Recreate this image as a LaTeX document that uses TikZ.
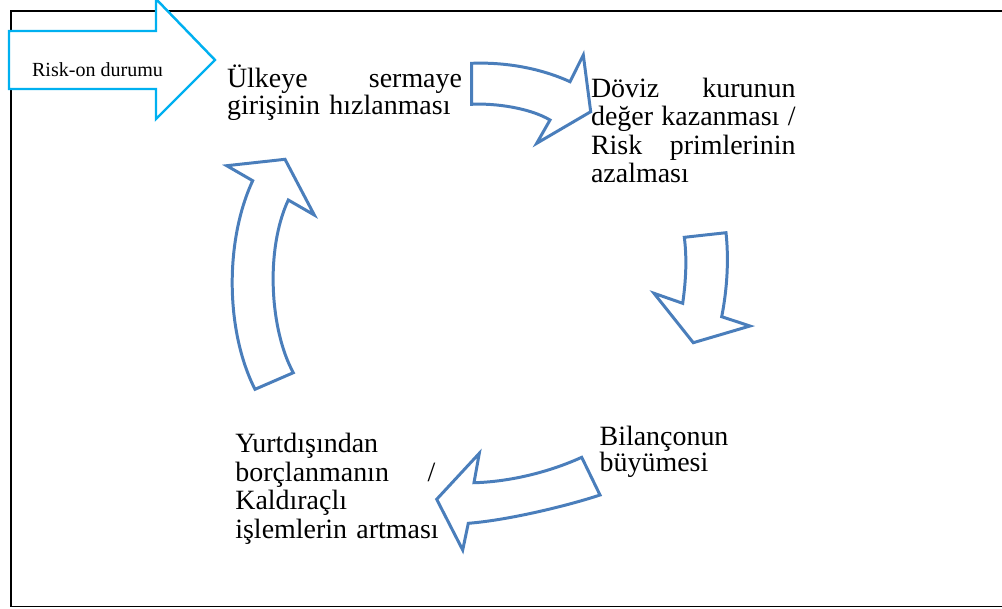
\documentclass[tikz,border=0pt]{standalone}
\usepackage{fontspec}
\setmainfont{Liberation Serif}
\usepackage{tikz}
\definecolor{arrow-blue}{RGB}{74,126,187}
\definecolor{risk-cyan}{RGB}{0,176,240}

\begin{document}
\begin{tikzpicture} [x=0.02cm, y=-0.02cm,
  blockarrow/.style={draw=arrow-blue, line width=1.7pt, line join=miter, fill=white},
  txt/.style={anchor=base west, inner sep=0pt, align=left, font=\fontsize{15.9}{#1}\selectfont}]%Risk-on cycle
\useasboundingbox (0,0) rectangle (1002,609);
% frame (right side runs off the page)
\draw [line width=1.1pt] (1012,10.7) -- (11,10.7) -- (11,606.5) -- (1012,606.5);
% entry arrow
\draw [risk-cyan, line width=1.4pt, fill=white] (9,31) -- (156,31) -- (156,-1) -- (215,60) -- (156,119) -- (156,89) -- (9,89) -- cycle;
  \node [anchor=base, inner sep=0pt, font=\fontsize{11.4}{13}\selectfont] (riskon) at (97.5,76) {Risk-on durumu};
% texts
  \node [txt=13.9, text width=4.7cm] (inflow) at (226.7,87) {Ülkeye\hfill sermaye\\girişinin hızlanması};
  \node [txt=16.1, text width=4.09cm] (currency) at (590.7,97.5) {Döviz\hfill kurunun\\değer\hfill kazanması\hfill /\\Risk\hfill primlerinin\\azalması};
  \node [txt=15.1, text width=3cm] (balance) at (599.3,445) {Bilançonun\\büyümesi};
  \node [txt=16.3, text width=4cm] (leverage) at (235,452.5) {Yurtdışından\\borçlanmanın\hfill /\\Kaldıraçlı\\\mbox{işlemlerin artması}};
% curved arrows
\draw [blockarrow] (471.7,63.3) .. controls (505,62) and (540,68) .. (570,81.7) -- (583.3,55) -- (590.7,111.7) -- (536.7,143.3) -- (550,120) .. controls (530,108) and (495,103) .. (471.7,104.3) -- cycle;
\draw [blockarrow] (684.3,237.3) -- (726,232.7) .. controls (729,260) and (727,290) .. (721.7,316.7) -- (750,326) -- (693.3,342.7) -- (654,293.3) -- (682.7,303.3) .. controls (686,280) and (687,258) .. (684.3,237.3) -- cycle;
\draw [blockarrow] (581.7,457.3) -- (600,495) .. controls (570,505) and (510,520) .. (468.3,523.3) -- (462.7,550) -- (436.7,499.3) -- (479.3,453.3) -- (474,482.7) .. controls (505,482) and (545,474) .. (581.7,457.3) -- cycle;
\draw [blockarrow] (255,389.3) -- (293.3,372.7) .. controls (270,330) and (265,250) .. (288.3,200) -- (314.3,215) -- (285,159.3) -- (226.7,165.7) -- (252.7,180.7) .. controls (225,240) and (225,330) .. (255,389.3) -- cycle;
\end{tikzpicture}
\end{document}
